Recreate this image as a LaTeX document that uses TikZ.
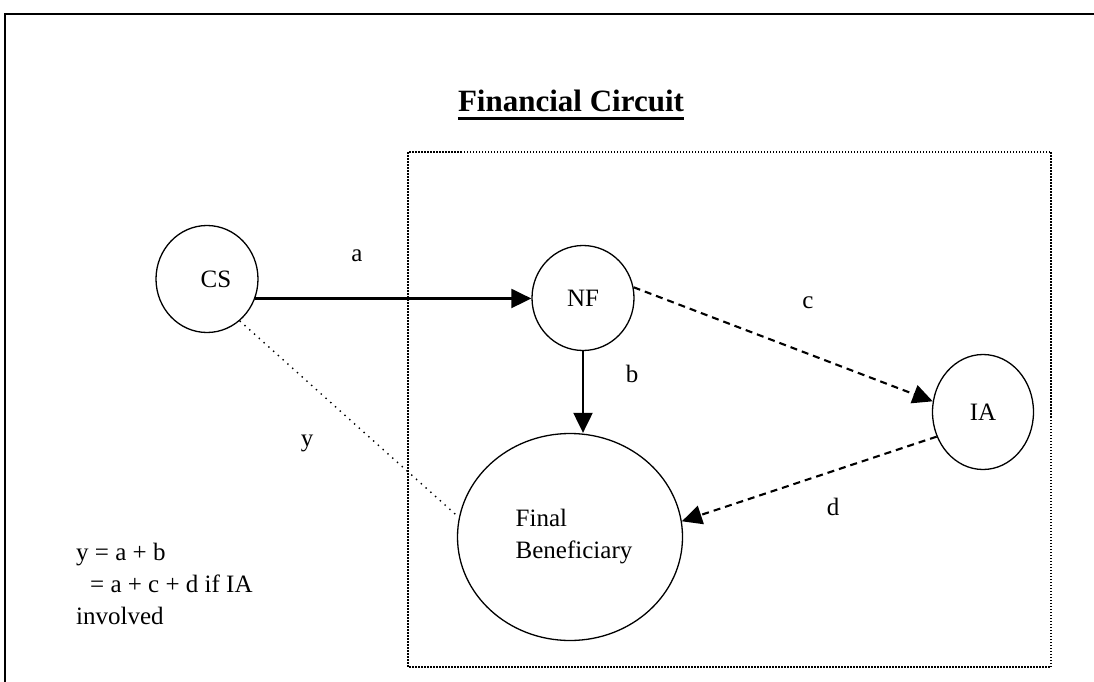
\documentclass[tikz,border=0pt]{standalone}
\usepackage{fontspec}
\setmainfont{Liberation Serif}
\usetikzlibrary{shapes.geometric,arrows.meta}
\begin{document}
\begin{tikzpicture}[x=1pt,y=-1pt,
  circ/.style={draw, ellipse, line width=1.3pt, inner sep=0pt, font=\fontsize{25}{32}\selectfont},
  lbl/.style={font=\fontsize{25}{32}\selectfont, inner sep=0pt},
  arr/.style={line width=2.1pt, -{Triangle[length=20pt,width=19pt]}},
  dsh/.style={arr, dash pattern=on 7pt off 5pt},
  dots/.style={line width=1.4pt, dash pattern=on 1.4pt off 5pt},
  framebox/.style={line width=1.5pt, dash pattern=on 1.5pt off 1.5pt},
]
\useasboundingbox (0,0) rectangle (1094,682);
\fill[white] (0,0) rectangle (1094,682);
% outer frame (left and top edges)
\draw[line width=2.2pt] (5,682) -- (5,14) -- (1094,14);
% title
\node[inner sep=0pt, anchor=base, font=\fontsize{31}{36}\selectfont\bfseries] (title) at (571,112) {Financial Circuit};
\draw[line width=3pt] ([yshift=-7pt]title.base west) -- ([yshift=-7pt]title.base east);
% dotted box
\draw[framebox] (408,152) rectangle (1051,667);
% circles
\node[circ, minimum width=102pt, minimum height=107pt] (CS) at (207,279) {\hspace*{18pt}CS};
\node[circ, minimum width=102pt, minimum height=105pt] (NF) at (583,298) {NF\\[8pt]};
\node[circ, minimum width=101pt, minimum height=115pt] (IA) at (983,412) {IA};
\node[circ, minimum width=225pt, minimum height=207pt, align=left] (FB) at (570,537) {\hspace*{8pt}Final\\\hspace*{8pt}Beneficiary};
% connectors
\draw[arr] (CS.-22) -- (CS.-22 -| NF.west);
\draw[arr] (NF.south) -- (NF.south |- FB.north);
\draw[dsh] (NF.12) -- (IA.168);
\draw[dsh] (IA.208) -- (FB.8);
\draw[dots] (CS.-52) -- (FB.170);
% labels
\node[lbl] (la) at (357,256) {a};
\node[lbl] (lb) at (632,374) {b};
\node[lbl] (lc) at (808,303) {c};
\node[lbl] (ld) at (833,507) {d};
\node[lbl] (ly) at (307,443) {y};
% formula
\node[lbl, anchor=north west, align=left] (eq) at (76,543) {y = a + b\\\hspace*{14pt}= a + c + d if IA\\involved};
\end{tikzpicture}
\end{document}
